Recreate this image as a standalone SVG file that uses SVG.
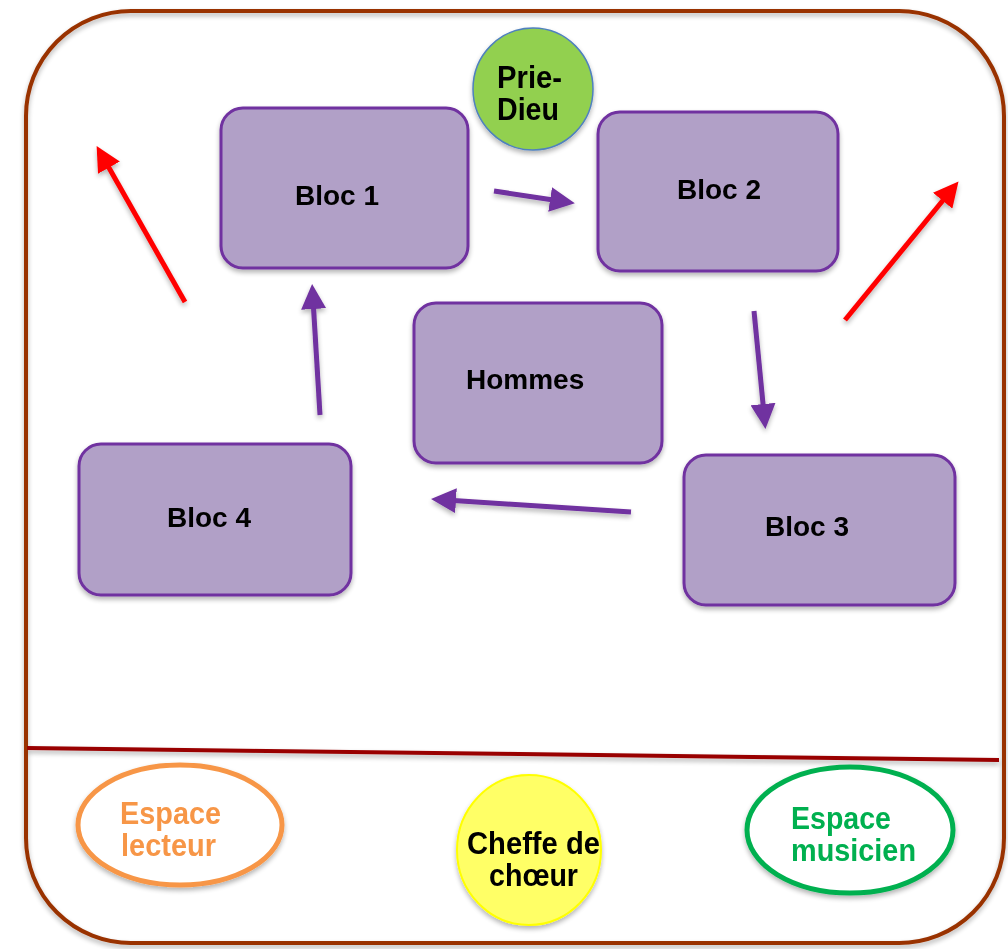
<svg xmlns="http://www.w3.org/2000/svg" width="1008" height="949" viewBox="0 0 1008 949">
<style>
.box{fill:#B1A0C7;stroke:#7030A0;stroke-width:3}
.t{font-family:"Liberation Sans",Arial,sans-serif;font-weight:bold;font-size:28px;text-anchor:start}
.n{font-size:31px}
.pa{stroke:#7030A0;stroke-width:5;fill:none;marker-end:url(#mp)}
.ra{stroke:#FF0000;stroke-width:5;fill:none;marker-end:url(#mr)}
</style>
<defs>
<filter id="sh" x="-10%" y="-10%" width="130%" height="130%">
<feGaussianBlur in="SourceAlpha" stdDeviation="2.5"/>
<feOffset dx="0" dy="3" result="b"/>
<feComponentTransfer><feFuncA type="linear" slope="0.3"/></feComponentTransfer>
<feMerge><feMergeNode/><feMergeNode in="SourceGraphic"/></feMerge>
</filter>
<marker id="mp" markerWidth="5" markerHeight="5" refX="2" refY="2.5" orient="auto" markerUnits="strokeWidth"><path d="M0,0 L5,2.5 L0,5 z" fill="#7030A0"/></marker>
<marker id="mr" markerWidth="5" markerHeight="5" refX="2" refY="2.5" orient="auto" markerUnits="strokeWidth"><path d="M0,0 L5,2.5 L0,5 z" fill="#FF0000"/></marker>
</defs>
<rect width="1008" height="949" fill="#FFFFFF"/>
<g id="frame" filter="url(#sh)">
<rect x="26" y="11" width="978" height="932" rx="105" ry="105" fill="none" stroke="#993300" stroke-width="4"/>
<line x1="27" y1="748" x2="999" y2="760" stroke="#990000" stroke-width="4"/>
</g>
<g id="prie-dieu" filter="url(#sh)">
<ellipse cx="533" cy="89" rx="60" ry="61" fill="#92D050" stroke="#4F81BD" stroke-width="1.5"/>
<text class="t n" x="497" y="88" textLength="65" lengthAdjust="spacingAndGlyphs">Prie-</text>
<text class="t n" x="497" y="120" textLength="62" lengthAdjust="spacingAndGlyphs">Dieu</text>
</g>
<g id="bloc1" filter="url(#sh)">
<rect class="box" x="221" y="108" width="247" height="160" rx="22"/>
<text class="t" x="295" y="205">Bloc 1</text>
</g>
<g id="bloc2" filter="url(#sh)">
<rect class="box" x="598" y="112" width="240" height="159" rx="22"/>
<text class="t" x="677" y="199">Bloc 2</text>
</g>
<g id="hommes" filter="url(#sh)">
<rect class="box" x="414" y="303" width="248" height="160" rx="22"/>
<text class="t" x="466" y="389">Hommes</text>
</g>
<g id="bloc4" filter="url(#sh)">
<rect class="box" x="79" y="444" width="272" height="151" rx="22"/>
<text class="t" x="167" y="527">Bloc 4</text>
</g>
<g id="bloc3" filter="url(#sh)">
<rect class="box" x="684" y="455" width="271" height="150" rx="22"/>
<text class="t" x="765" y="536">Bloc 3</text>
</g>
<g id="espace-lecteur" filter="url(#sh)">
<ellipse cx="180" cy="825" rx="102" ry="60" fill="#FFFFFF" stroke="#F79646" stroke-width="5"/>
<text class="t n" x="120" y="824" fill="#F79646" textLength="101" lengthAdjust="spacingAndGlyphs">Espace</text>
<text class="t n" x="121" y="856" fill="#F79646" textLength="95" lengthAdjust="spacingAndGlyphs">lecteur</text>
</g>
<g id="cheffe" filter="url(#sh)">
<ellipse cx="529" cy="850" rx="72" ry="75" fill="#FFFF66" stroke="#FFFF00" stroke-width="2"/>
<text class="t n" x="467" y="854" textLength="133" lengthAdjust="spacingAndGlyphs">Cheffe de</text>
<text class="t n" x="489" y="886" textLength="89" lengthAdjust="spacingAndGlyphs">chœur</text>
</g>
<g id="espace-musicien" filter="url(#sh)">
<ellipse cx="850" cy="830" rx="103" ry="63" fill="#FFFFFF" stroke="#00B050" stroke-width="5"/>
<text class="t n" x="791" y="829" fill="#00B050" textLength="100" lengthAdjust="spacingAndGlyphs">Espace</text>
<text class="t n" x="791" y="861" fill="#00B050" textLength="125" lengthAdjust="spacingAndGlyphs">musicien</text>
</g>
<g id="connectors" filter="url(#sh)">
<line class="pa" x1="494" y1="191" x2="560" y2="201"/>
<line class="pa" x1="754" y1="311" x2="764" y2="414"/>
<line class="pa" x1="631" y1="512" x2="446" y2="500"/>
<line class="pa" x1="320" y1="415" x2="313" y2="299"/>
<line class="ra" x1="185" y1="302" x2="104" y2="159"/>
<line class="ra" x1="845" y1="320" x2="949" y2="193"/>
</g>
</svg>
